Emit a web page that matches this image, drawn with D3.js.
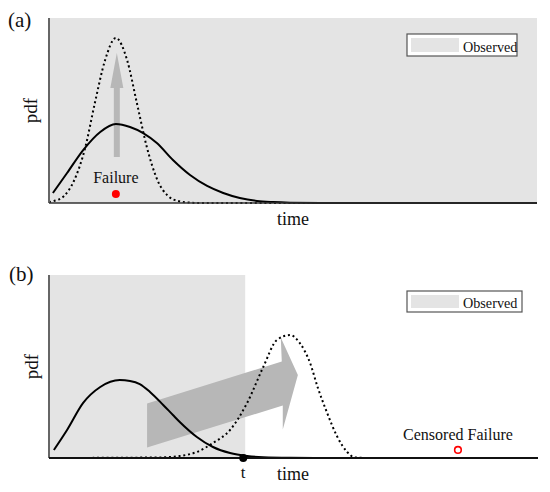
<!DOCTYPE html>
<html>
<head>
<meta charset="utf-8">
<script src="https://cdn.jsdelivr.net/npm/d3@7"></script>
<style>
  html, body { margin: 0; padding: 0; background: #fff; }
  svg { display: block; }
  text { font-family: "Liberation Serif", "Times New Roman", serif; fill: #111; }
</style>
</head>
<body>
<svg id="chart" width="550" height="492"></svg>
<script>
// ---------- data (time units, pdf as fraction of panel height) ----------
const panelLabels = ["(a)", "(b)"];
const axisLabelX = "time";
const axisLabelY = "pdf";
const legendLabel = "Observed";
const failureLabel = "Failure";
const censoredLabel = "Censored Failure";
const censorTimeLabel = "t";

// panel (a): prior (solid) and posterior (dotted)
const solidA_time = [0.08, 0.37, 0.70, 1.05, 1.37, 1.66, 1.93, 2.21, 2.54, 2.89, 3.24, 3.57, 3.91, 4.26, 4.59, 4.94, 5.76, 10];
const solidA_pdf  = [0.054, 0.162, 0.286, 0.384, 0.427, 0.411, 0.378, 0.324, 0.232, 0.151, 0.092, 0.054, 0.027, 0.011, 0.005, 0.002, 0, 0];
const dottedA_time = [0, 0.10, 0.31, 0.51, 0.74, 0.94, 1.15, 1.37, 1.60, 1.80, 2.01, 2.23, 2.44, 2.64, 2.89, 3.09, 10];
const dottedA_pdf  = [0.005, 0.011, 0.038, 0.119, 0.297, 0.541, 0.773, 0.892, 0.773, 0.541, 0.297, 0.119, 0.038, 0.011, 0.002, 0, 0];

// panel (b)
const solidB_time = [0.10, 0.37, 0.70, 1.05, 1.45, 1.66, 1.86, 2.07, 2.34, 2.54, 2.68, 3.03, 3.36, 3.71, 4.06, 4.39, 4.94, 5.76, 10];
const solidB_pdf  = [0.044, 0.153, 0.301, 0.388, 0.426, 0.421, 0.404, 0.361, 0.290, 0.235, 0.197, 0.115, 0.060, 0.027, 0.011, 0.004, 0.001, 0, 0];
const dottedB_time = [0, 2.27, 2.68, 3.03, 3.36, 3.71, 4.06, 4.39, 4.67, 4.94, 5.14, 5.35, 5.51, 5.70, 5.90, 6.11, 6.27, 6.58, 10];
const dottedB_pdf  = [0, 0.003, 0.011, 0.033, 0.082, 0.153, 0.301, 0.497, 0.645, 0.672, 0.628, 0.519, 0.383, 0.246, 0.120, 0.033, 0.003, 0, 0];

// annotations (data units)
const failureA = { time: 1.37, pdf: 0.049, labelPdf: 0.108 };
const arrowA = { time: 1.39, tailPdf: 0.249, basePdf: 0.622, tipPdf: 0.811 };
const censorTime = 3.98;
const observedEndB = 4.02;
const censoredB = { time: 8.38, pdf: 0.044, labelPdf: 0.098 };
const arrowB = { tailTime: 2.01, tailPdf: 0.178, baseTime: 4.77, basePdf: 0.407, tipTime: 5.10, tipPdf: 0.454 };

// ---------- layout ----------
const svg = d3.select("#chart");
const x = d3.scaleLinear().domain([0, 10]).range([49, 537]);
const yA = d3.scaleLinear().domain([0, 1]).range([203, 18]);
const yB = d3.scaleLinear().domain([0, 1]).range([458, 275]);

const GRAY_OBS = "#e4e4e4";
const ARROW = "#b7b7b7";

function zip(ts, ps) { return ts.map((t, i) => ({ t, p: ps[i] })); }
function drawCurve(g, ts, ps, y, dotted) {
  const line = d3.line().x(d => x(d.t)).y(d => y(d.p)).curve(d3.curveMonotoneX);
  g.append("path").datum(zip(ts, ps))
    .attr("d", line)
    .attr("fill", "none")
    .attr("stroke", "#000")
    .attr("stroke-width", 2)
    .attr("stroke-dasharray", dotted ? "2 2.8" : null);
}

function drawLegend(g, x0, y0, w, h) {
  g.append("rect").attr("x", x0).attr("y", y0).attr("width", w).attr("height", h)
    .attr("fill", "#fff").attr("stroke", "#555").attr("stroke-width", 1.2);
  g.append("rect").attr("x", x0 + 4).attr("y", y0 + 4).attr("width", 48).attr("height", h - 8)
    .attr("fill", GRAY_OBS);
  g.append("text").attr("x", x0 + 56).attr("y", y0 + h - 4.5)
    .attr("font-size", 14.2).text(legendLabel);
}

// ---------- panel (a) ----------
const gA = svg.append("g");
gA.append("rect").attr("x", x(0)).attr("y", yA(1)).attr("width", x(10) - x(0)).attr("height", yA(0) - yA(1))
  .attr("fill", GRAY_OBS);
// vertical arrow
{
  const cx = x(arrowA.time);
  const pts = [
    [cx - 3, yA(arrowA.tailPdf)], [cx - 3, yA(arrowA.basePdf)], [cx - 6.5, yA(arrowA.basePdf)],
    [cx, yA(arrowA.tipPdf)],
    [cx + 6.5, yA(arrowA.basePdf)], [cx + 3, yA(arrowA.basePdf)], [cx + 3, yA(arrowA.tailPdf)]
  ];
  gA.append("polygon").attr("points", pts.map(p => p.join(",")).join(" ")).attr("fill", ARROW);
}
drawCurve(gA, dottedA_time, dottedA_pdf, yA, true);
drawCurve(gA, solidA_time, solidA_pdf, yA, false);
// axes
gA.append("line").attr("x1", x(0)).attr("x2", x(0)).attr("y1", yA(1)).attr("y2", yA(0))
  .attr("stroke", "#666").attr("stroke-width", 2);
gA.append("line").attr("x1", x(0)).attr("x2", x(10)).attr("y1", yA(0)).attr("y2", yA(0))
  .attr("stroke", "#333").attr("stroke-width", 1.5);
// failure
gA.append("text").attr("x", x(failureA.time)).attr("y", yA(failureA.labelPdf))
  .attr("text-anchor", "middle").attr("font-size", 16).text(failureLabel);
gA.append("circle").attr("cx", x(failureA.time)).attr("cy", yA(failureA.pdf)).attr("r", 4).attr("fill", "#f00");
drawLegend(gA, 407, 34, 110, 22);
gA.append("text").attr("x", 8).attr("y", 27).attr("font-size", 21).text(panelLabels[0]);
gA.append("text").attr("transform", `translate(37,${(yA(0) + yA(1)) / 2}) rotate(-90)`)
  .attr("text-anchor", "middle").attr("font-size", 19).text(axisLabelY);
gA.append("text").attr("x", 293).attr("y", 225).attr("text-anchor", "middle").attr("font-size", 18).text(axisLabelX);

// ---------- panel (b) ----------
const gB = svg.append("g");
gB.append("rect").attr("x", x(0)).attr("y", yB(1)).attr("width", x(observedEndB) - x(0)).attr("height", yB(0) - yB(1))
  .attr("fill", GRAY_OBS);
// sheared arrow
{
  const xt = x(arrowB.tailTime), xb = x(arrowB.baseTime), xp = x(arrowB.tipTime);
  const yt = yB(arrowB.tailPdf), yb = yB(arrowB.basePdf), yp = yB(arrowB.tipPdf);
  const half = 22, headHalf = 46;
  const pts = [
    [xt, yt - half], [xb, yb - half], [xb - 1, yb - headHalf], [xp, yp],
    [xb + 1, yb + headHalf], [xb + 1, yb + half], [xt, yt + half]
  ];
  gB.append("polygon").attr("points", pts.map(p => p.join(",")).join(" ")).attr("fill", ARROW);
}
drawCurve(gB, dottedB_time, dottedB_pdf, yB, true);
drawCurve(gB, solidB_time, solidB_pdf, yB, false);
gB.append("line").attr("x1", x(0)).attr("x2", x(0)).attr("y1", yB(1)).attr("y2", yB(0))
  .attr("stroke", "#666").attr("stroke-width", 2);
gB.append("line").attr("x1", x(0)).attr("x2", x(10) + 1).attr("y1", yB(0)).attr("y2", yB(0))
  .attr("stroke", "#111").attr("stroke-width", 1.8);
gB.append("circle").attr("cx", x(censorTime)).attr("cy", yB(0)).attr("r", 4).attr("fill", "#000");
gB.append("text").attr("x", x(censorTime)).attr("y", 478).attr("text-anchor", "middle").attr("font-size", 17).text(censorTimeLabel);
gB.append("text").attr("x", 293).attr("y", 480).attr("text-anchor", "middle").attr("font-size", 18).text(axisLabelX);
gB.append("text").attr("x", x(censoredB.time)).attr("y", yB(censoredB.labelPdf))
  .attr("text-anchor", "middle").attr("font-size", 16).text(censoredLabel);
gB.append("circle").attr("cx", x(censoredB.time)).attr("cy", yB(censoredB.pdf)).attr("r", 3.3)
  .attr("fill", "#fff").attr("stroke", "#f00").attr("stroke-width", 1.6);
drawLegend(gB, 407, 291, 115, 21);
gB.append("text").attr("x", 9).attr("y", 281).attr("font-size", 21).text(panelLabels[1]);
gB.append("text").attr("transform", `translate(38,${(yB(0) + yB(1)) / 2}) rotate(-90)`)
  .attr("text-anchor", "middle").attr("font-size", 19).text(axisLabelY);
</script>
</body>
</html>
